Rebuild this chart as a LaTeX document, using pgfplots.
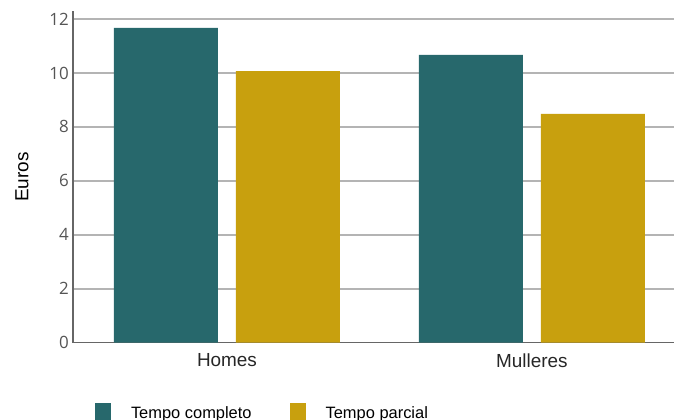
\documentclass[border=0pt]{standalone}
\usepackage{pgfplots}
\pgfplotsset{compat=1.18}
\usepackage{fontspec}
\setmainfont{Liberation Sans}
\newfontfamily\opensans{Open Sans}
\definecolor{teal1}{HTML}{27686C}
\definecolor{gold1}{HTML}{C8A00E}
\definecolor{axgrey}{HTML}{666666}
\definecolor{gridgrey}{HTML}{B4B4B4}
\definecolor{ticktext}{HTML}{555555}
\begin{document}
\begin{tikzpicture}
\path[use as bounding box] (0,0) rectangle (674bp,420bp);
\begin{axis}[
  at={(73bp,77.3bp)}, anchor=south west,
  scale only axis, width=601bp, height=331.2bp,
  xmin=-0.505, xmax=1.466, ymin=0, ymax=12.28,
  ybar=18bp, bar width=104bp,
  axis x line=bottom, axis y line=left,
  axis line style={draw=axgrey, line width=1.3bp, -},
  xtick={0,1}, xticklabels={Homes,Mulleres},
  ytick={0,2,4,6,8,10,12},
  major tick length=0pt,
  tick style={draw=none},
  ymajorgrids, grid style={draw=gridgrey, line width=1.5bp},
  /pgf/number format/assume math mode=true,
  yticklabel style={font=\opensans\fontsize{17}{17}\selectfont, text=ticktext, inner sep=0pt, xshift=-4bp},
  xticklabel style={font=\fontsize{19}{19}\selectfont, text=black!85, inner sep=0pt, yshift=-11bp},
  ylabel={Euros},
  every axis y label/.style={at={(rel axis cs:0,0.5)}, xshift=-51bp, rotate=90, anchor=center, font=\fontsize{19}{19}\selectfont},
  legend columns=2,
  legend style={at={(rel axis cs:0.0366,-0.182)}, anchor=north west, draw=none, inner sep=0pt, outer sep=0pt,
    font=\fontsize{16.5}{16.5}\selectfont,
    nodes={inner sep=0pt, anchor=west, yshift=-1bp},
    /tikz/every odd column/.append style={column sep=20bp},
    /tikz/every even column/.append style={column sep=38bp}},
  legend image code/.code={\fill[#1] (0bp,-7.5bp) rectangle (16bp,9.5bp);},
]
\addplot[fill=teal1, draw=none] coordinates {(0,11.67) (1,10.67)};
\addplot[fill=gold1, draw=none] coordinates {(0,10.07) (1,8.48)};
\legend{Tempo completo, Tempo parcial}
\end{axis}
\end{tikzpicture}
\end{document}
